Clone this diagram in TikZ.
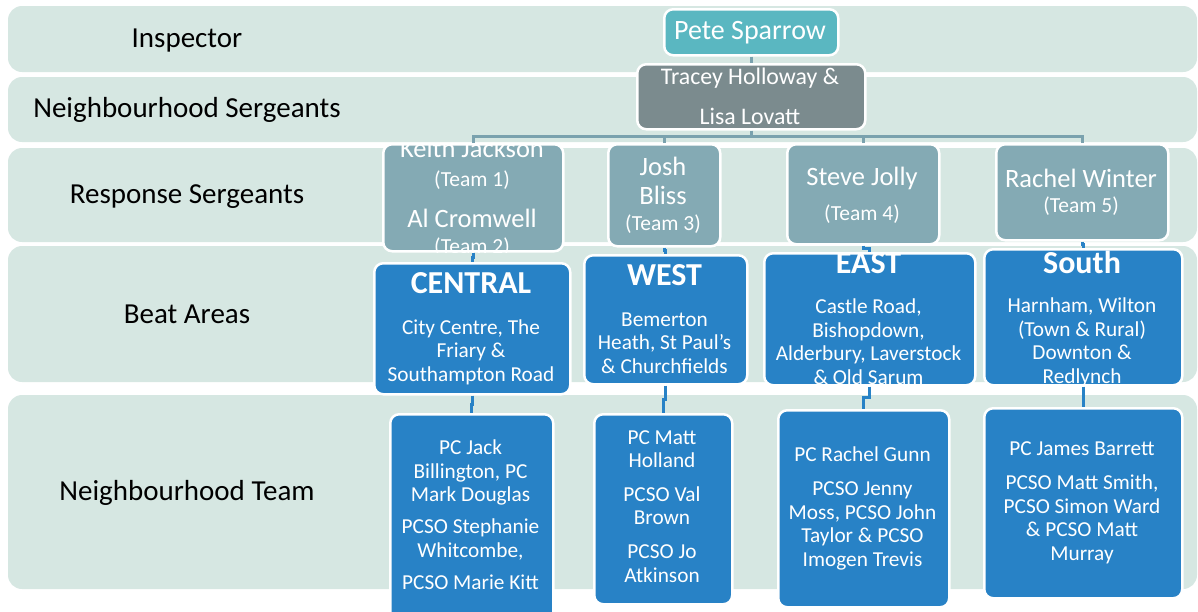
\documentclass[tikz,border=0pt]{standalone}
\usepackage{fontspec}
\setmainfont{Carlito}
\usetikzlibrary{calc}
\definecolor{bandc}{RGB}{214,231,226}
\definecolor{petec}{RGB}{90,183,193}
\definecolor{tracc}{RGB}{123,139,142}
\definecolor{respc}{RGB}{132,170,180}
\definecolor{bluec}{RGB}{40,130,198}
\definecolor{busc}{RGB}{122,162,174}
\begin{document}
\begin{tikzpicture}[x=1pt,y=-1pt,
  bandfill/.style={fill=bandc, rounded corners=14pt},
  lbl/.style={anchor=base, text=black, inner sep=0, font=\fontsize{29}{34}\selectfont},
  bx/.style={draw=white, line width=2.5pt, rounded corners=9pt, inner sep=0, anchor=north west},
  wt/.style={anchor=base, text=white, inner sep=0, align=center},
  big/.style={font=\fontsize{26.5}{31}\selectfont},
  small/.style={font=\fontsize{21.5}{25}\selectfont},
  body/.style={font=\fontsize{21.3}{23.5}\selectfont},
  ttl/.style={font=\bfseries\fontsize{32}{36}\selectfont},
  busl/.style={draw=busc, line width=3pt},
  bll/.style={draw=bluec, line width=3pt},
]
\useasboundingbox (0,0) rectangle (1198,611);
\clip (0,0) rectangle (1198,611);
% bands
\fill[bandfill] (8,6) rectangle (1197,72);
\fill[bandfill] (8,77) rectangle (1197,142);
\fill[bandfill] (8,148) rectangle (1197,242);
\fill[bandfill] (8,246) rectangle (1197,382);
\fill[bandfill] (8,395) rectangle (1197,589);
% left labels
\node[lbl] (l1) at (187,47) {Inspector};
\node[lbl] (l2) at (187,117) {Neighbourhood Sergeants};
\node[lbl] (l3) at (187,203) {Response Sergeants};
\node[lbl] (l4) at (187,323) {Beat Areas};
\node[lbl] (l5) at (187,500) {Neighbourhood Team};
% boxes
\node[bx, fill=petec, minimum width=174, minimum height=46] (pete) at (663,8) {};
\node[bx, fill=tracc, minimum width=228, minimum height=65] (tracey) at (636,63) {};
\node[bx, fill=respc, minimum width=180, minimum height=107] (keith) at (382,143) {};
\node[bx, fill=respc, minimum width=112, minimum height=102] (josh) at (607,143) {};
\node[bx, fill=respc, minimum width=152, minimum height=100] (steve) at (786,143) {};
\node[bx, fill=respc, minimum width=172, minimum height=96] (rachel) at (995,143) {};
\node[bx, fill=bluec, minimum width=196, minimum height=131] (central) at (373,262) {};
\node[bx, fill=bluec, minimum width=163, minimum height=129] (west) at (583,254) {};
\node[bx, fill=bluec, minimum width=211, minimum height=132] (east) at (763,252) {};
\node[bx, fill=bluec, minimum width=198, minimum height=136] (south) at (983,248) {};
\node[bx, fill=bluec, minimum width=163, minimum height=210] (cteam) at (389,413) {};
\node[bx, fill=bluec, minimum width=138, minimum height=190] (wteam) at (593,413) {};
\node[bx, fill=bluec, minimum width=171, minimum height=197] (eteam) at (777,409) {};
\node[bx, fill=bluec, minimum width=198, minimum height=190] (steam) at (983,407) {};
% connectors
\coordinate (bus) at (750,136);
\draw[busl] (pete.south) -- (tracey.north);
\draw[busl] (tracey.south) -- (tracey.south |- bus);
\draw[busl] (keith.north) |- (rachel.north |- bus) -- (rachel.north);
\draw[busl] (josh.north) -- (josh.north |- bus);
\draw[busl] (steve.north) -- (steve.north |- bus);
\foreach \a/\b in {keith/central, josh/west, steve/east, rachel/south, central/cteam, west/wteam, east/eteam, south/steam}{
  \draw[bll] (\a.south) |- ($(\a.south)!0.5!(\b.north)$) -| (\b.north);
}
% texts
\node[wt, font=\fontsize{28}{32}\selectfont] (tpete) at (750,39.5) {Pete Sparrow};
\node[wt, font=\fontsize{23.8}{40}\selectfont] (ttracey) at (750,124) {Tracey Holloway \&\\Lisa Lovatt};
\begin{scope}
  \clip[rounded corners=9pt] (keith.north west) rectangle (keith.south east);
  \node[wt, big] (tk1) at (472,157) {Keith Jackson};
  \node[wt, small] (tk2) at (472,186) {(Team 1)};
  \node[wt, big] (tk3) at (472,227) {Al Cromwell};
  \node[wt, small] (tk4) at (472,253) {(Team 2)};
\end{scope}
\node[wt, font=\fontsize{26.5}{29}\selectfont] (tj1) at (663,204) {Josh\\Bliss};
\node[wt, small] (tj2) at (663,230) {(Team 3)};
\node[wt, big] (ts1) at (862,185) {Steve Jolly};
\node[wt, small] (ts2) at (862,220) {(Team 4)};
\node[wt, big] (tr1) at (1081,187) {Rachel Winter};
\node[wt, small] (tr2) at (1081,212) {(Team 5)};
% beat areas
\node[wt, ttl] (tc1) at (471,293) {CENTRAL};
\node[wt, body] (tc2) at (471,381) {City Centre, The\\Friary \&\\Southampton Road};
\node[wt, ttl] (tw1) at (664.5,285) {WEST};
\node[wt, body] (tw2) at (664.5,373) {Bemerton\\Heath, St Paul's\\\& Churchfields};
\begin{scope}
  \clip[rounded corners=9pt] (east.north west) rectangle (east.south east);
  \node[wt, ttl] (te1) at (868.5,273) {EAST};
  \node[wt, body] (te2) at (868.5,384) {Castle Road,\\Bishopdown,\\Alderbury, Laverstock\\\& Old Sarum};
\end{scope}
\begin{scope}
  \clip[rounded corners=9pt] (south.north west) rectangle (south.south east);
  \node[wt, ttl] (tso1) at (1082,273) {South};
  \node[wt, body] (tso2) at (1082,383) {Harnham, Wilton\\(Town \& Rural)\\Downton \&\\Redlynch};
\end{scope}
% teams
\node[wt, body] (tct) at (470.5,589) {PC Jack\\Billington, PC\\Mark Douglas\\[8.5pt]PCSO Stephanie\\Whitcombe,\\[8.5pt]PCSO Marie Kitt};
\node[wt, body] (twt) at (662,582) {PC Matt\\Holland\\[10pt]PCSO Val\\Brown\\[10.5pt]PCSO Jo\\Atkinson};
\node[wt, body] (tet) at (862.5,566) {PC Rachel Gunn\\[10.5pt]PCSO Jenny\\Moss, PCSO John\\Taylor \& PCSO\\Imogen Trevis};
\node[wt, body] (tst) at (1082,560) {PC James Barrett\\[10.5pt]PCSO Matt Smith,\\PCSO Simon Ward\\\& PCSO Matt\\Murray};
\end{tikzpicture}
\end{document}
